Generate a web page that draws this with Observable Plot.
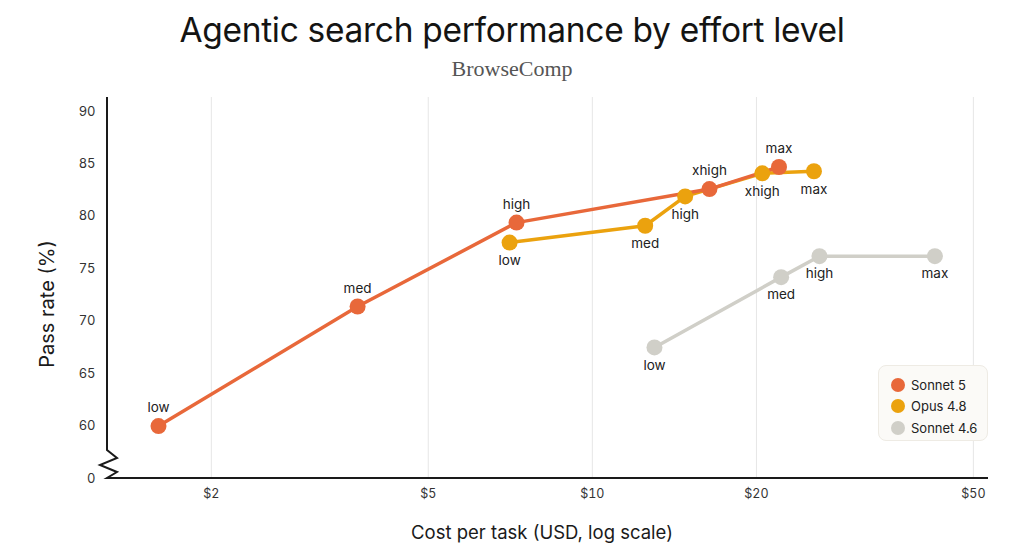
<!DOCTYPE html>
<html><head><meta charset="utf-8">
<script src="https://cdn.jsdelivr.net/npm/d3@7"></script>
<script src="https://cdn.jsdelivr.net/npm/@observablehq/plot@0.6"></script>
<style>
body{margin:0;background:#fff;font-family:Inter,"Open Sans",sans-serif;}
#wrap{position:relative;width:1024px;height:555px;overflow:hidden;background:#fff}
#title{position:absolute;top:10px;left:0;width:1024px;text-align:center;font-size:33.5px;line-height:40px;color:#141413;font-weight:400;letter-spacing:-0.3px}
#subtitle{position:absolute;top:56px;left:0;width:1024px;text-align:center;font-family:"Liberation Serif","DejaVu Serif",serif;font-size:22px;line-height:26px;color:#555}
#chart{position:absolute;top:90px;left:0}
#legend{position:absolute;left:878px;top:365px;width:110px;height:76px;box-sizing:border-box;background:#FBFAF7;border:1px solid #EEEBE4;border-radius:8px;padding:8px 0 0 12px}
.li{display:flex;align-items:center;height:21.5px;font-size:13px;color:#222}
.sw{width:14px;height:14px;border-radius:50%;margin-right:6px;flex:none}
</style></head>
<body>
<div id="wrap">
  <div id="title"></div>
  <div id="subtitle"></div>
  <div id="chart"></div>
  <div id="legend"></div>
</div>
<script>
const titleText = "Agentic search performance by effort level";
const subtitleText = "BrowseComp";
const xLabel = "Cost per task (USD, log scale)";
const yLabel = "Pass rate (%)";

const models = ["Sonnet 5", "Opus 4.8", "Sonnet 4.6"];
const modelColors = ["#E8683A", "#EBA20E", "#D0CFC8"];

const sonnet5Effort = ["low", "med", "high", "xhigh", "max"];
const sonnet5Cost   = [1.60, 3.71, 7.26, 16.4, 22.0];
const sonnet5Pass   = [60.0, 71.4, 79.4, 82.6, 84.7];

const opus48Effort = ["low", "med", "high", "xhigh", "max"];
const opus48Cost   = [7.05, 12.5, 14.8, 20.5, 25.5];
const opus48Pass   = [77.5, 79.1, 81.9, 84.1, 84.3];

const sonnet46Effort = ["low", "med", "high", "max"];
const sonnet46Cost   = [13.0, 22.2, 26.1, 42.5];
const sonnet46Pass   = [67.5, 74.2, 76.2, 76.2];

const xTicks = [2, 5, 10, 20, 50];
const yTicks = [60, 65, 70, 75, 80, 85, 90];
const yBreakValue = 0;     // value shown below the axis break
const yBreakPos = 55;      // scale slot used for the "0" tick

document.getElementById("title").textContent = titleText;
document.getElementById("subtitle").textContent = subtitleText;

const series = [
  {model: models[0], effort: sonnet5Effort, cost: sonnet5Cost, pass: sonnet5Pass, above: true},
  {model: models[1], effort: opus48Effort, cost: opus48Cost, pass: opus48Pass, above: false},
  {model: models[2], effort: sonnet46Effort, cost: sonnet46Cost, pass: sonnet46Pass, above: false}
];
const rows = series.flatMap(s => s.cost.map((c, i) => ({model: s.model, effort: s.effort[i], cost: c, pass: s.pass[i], above: s.above})));
const drawOrder = [models[2], models[1], models[0]];
const ordered = drawOrder.flatMap(m => rows.filter(r => r.model === m));

const axisBreak = (index, scales, values, dims) => {
  const x0 = dims.marginLeft;
  const yb = scales.y(yBreakPos);
  const ns = "http://www.w3.org/2000/svg";
  const g = document.createElementNS(ns, "g");
  const p = document.createElementNS(ns, "path");
  p.setAttribute("d", `M${x0},${dims.marginTop}V${yb-28}L${x0+10},${yb-20}L${x0-7},${yb-13}L${x0+10},${yb-6}L${x0},${yb}H${dims.width-dims.marginRight}`);
  p.setAttribute("fill", "none");
  p.setAttribute("stroke", "#1a1a1a");
  p.setAttribute("stroke-width", "2");
  g.appendChild(p);
  return g;
};

const chart = Plot.plot({
  width: 1024,
  height: 465,
  marginLeft: 107,
  marginRight: 36,
  marginTop: 7,
  marginBottom: 77,
  style: {fontFamily: "Inter, 'Open Sans', sans-serif", background: "transparent"},
  x: {type: "log", domain: [1.29, 53.3]},
  y: {domain: [yBreakPos, 91.33]},
  color: {domain: models, range: modelColors},
  marks: [
    Plot.ruleX(xTicks, {stroke: "#e6e6e6", strokeWidth: 1}),
    Plot.axisX({ticks: xTicks, tickSize: 0, tickPadding: 11, tickFormat: d => "$" + d, fontSize: 12.5, color: "#333", label: null}),
    Plot.axisY({ticks: [yBreakPos, ...yTicks], tickSize: 0, tickPadding: 12, tickFormat: d => d === yBreakPos ? String(yBreakValue) : String(d), fontSize: 13, color: "#333", label: null}),
    axisBreak,
    Plot.line(ordered, {x: "cost", y: "pass", z: "model", stroke: "model", strokeWidth: 3.5}),
    Plot.dot(ordered, {x: "cost", y: "pass", fill: "model", r: 8}),
    Plot.text(rows.filter(r => r.above), {x: "cost", y: "pass", text: "effort", dy: -18, fontSize: 13.5, fill: "#222"}),
    Plot.text(rows.filter(r => !r.above), {x: "cost", y: "pass", text: "effort", dy: 18, fontSize: 13.5, fill: "#222"}),
    Plot.text([xLabel], {frameAnchor: "bottom", dx: -6, dy: 60, text: d => d, fontSize: 18.5, fill: "#1a1a1a"}),
    Plot.text([yLabel], {frameAnchor: "left", textAnchor: "middle", dx: -60, dy: 16, rotate: -90, text: d => d, fontSize: 20, fill: "#1a1a1a"})
  ]
});
document.getElementById("chart").appendChild(chart);

const leg = document.getElementById("legend");
models.forEach((m, i) => {
  const d = document.createElement("div");
  d.className = "li";
  d.innerHTML = `<span class="sw" style="background:${modelColors[i]}"></span><span>${m}</span>`;
  leg.appendChild(d);
});
</script>
</body></html>
